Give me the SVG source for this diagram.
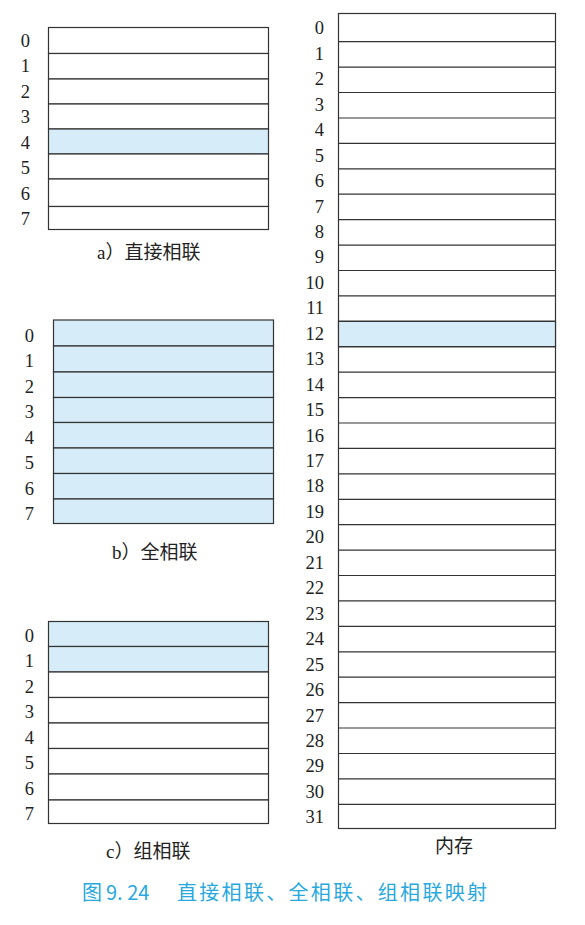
<svg xmlns="http://www.w3.org/2000/svg" width="585" height="925" viewBox="0 0 585 925">
<style>
.c{fill:#ffffff;stroke:#333333;stroke-width:1.2}
.h{fill:#d6edf9;stroke:#333333;stroke-width:1.2}
.n{font-size:18.5px;fill:#222222;text-anchor:end}
.cap{font-size:19px;fill:#222222}
.fig{font-size:20px;fill:#29a8e0}
</style>
<rect width="585" height="925" fill="#ffffff"/>
<g id="cache-a" font-family="'Liberation Serif','Noto Sans CJK SC',serif">
<rect class="c" x="48.5" y="27.5" width="220" height="26"/>
<rect class="c" x="48.5" y="53.5" width="220" height="25.5"/>
<rect class="c" x="48.5" y="79" width="220" height="25"/>
<rect class="c" x="48.5" y="104" width="220" height="25"/>
<rect class="h" x="48.5" y="129" width="220" height="25"/>
<rect class="c" x="48.5" y="154" width="220" height="25"/>
<rect class="c" x="48.5" y="179" width="220" height="27.5"/>
<rect class="c" x="48.5" y="206.5" width="220" height="23"/>
<text class="n" x="30" y="46.5">0</text>
<text class="n" x="30" y="72">1</text>
<text class="n" x="30" y="97.5">2</text>
<text class="n" x="30" y="123">3</text>
<text class="n" x="30" y="148.5">4</text>
<text class="n" x="30" y="174">5</text>
<text class="n" x="30" y="199.5">6</text>
<text class="n" x="30" y="225">7</text>
<text class="cap" x="97" y="259">a）直接相联</text>
</g>
<g id="cache-b" font-family="'Liberation Serif','Noto Sans CJK SC',serif">
<rect class="h" x="53.5" y="320" width="220" height="26"/>
<rect class="h" x="53.5" y="346" width="220" height="26"/>
<rect class="h" x="53.5" y="372" width="220" height="25.5"/>
<rect class="h" x="53.5" y="397.5" width="220" height="25"/>
<rect class="h" x="53.5" y="422.5" width="220" height="25.5"/>
<rect class="h" x="53.5" y="448" width="220" height="25.5"/>
<rect class="h" x="53.5" y="473.5" width="220" height="25.5"/>
<rect class="h" x="53.5" y="499" width="220" height="24.5"/>
<text class="n" x="34" y="341.5">0</text>
<text class="n" x="34" y="367">1</text>
<text class="n" x="34" y="392.5">2</text>
<text class="n" x="34" y="418">3</text>
<text class="n" x="34" y="443.5">4</text>
<text class="n" x="34" y="469">5</text>
<text class="n" x="34" y="494.5">6</text>
<text class="n" x="34" y="520">7</text>
<text class="cap" x="112" y="559">b）全相联</text>
</g>
<g id="cache-c" font-family="'Liberation Serif','Noto Sans CJK SC',serif">
<rect class="h" x="48.5" y="621.5" width="220" height="25"/>
<rect class="h" x="48.5" y="646.5" width="220" height="25.5"/>
<rect class="c" x="48.5" y="672" width="220" height="25.5"/>
<rect class="c" x="48.5" y="697.5" width="220" height="25.5"/>
<rect class="c" x="48.5" y="723" width="220" height="25.5"/>
<rect class="c" x="48.5" y="748.5" width="220" height="25.5"/>
<rect class="c" x="48.5" y="774" width="220" height="26"/>
<rect class="c" x="48.5" y="800" width="220" height="23.5"/>
<text class="n" x="34" y="641.5">0</text>
<text class="n" x="34" y="667">1</text>
<text class="n" x="34" y="692.5">2</text>
<text class="n" x="34" y="718">3</text>
<text class="n" x="34" y="743.5">4</text>
<text class="n" x="34" y="769">5</text>
<text class="n" x="34" y="794.5">6</text>
<text class="n" x="34" y="820">7</text>
<text class="cap" x="106" y="858">c）组相联</text>
</g>
<g id="memory" font-family="'Liberation Serif','Noto Sans CJK SC',serif">
<rect class="c" x="338.5" y="13.5" width="217" height="815"/>
<rect class="h" x="338.5" y="321.3" width="217" height="25.4"/>
<g stroke="#333333" stroke-width="1.2">
<line x1="338.5" x2="555.5" y1="41.7" y2="41.7"/>
<line x1="338.5" x2="555.5" y1="67.1" y2="67.1"/>
<line x1="338.5" x2="555.5" y1="92.5" y2="92.5"/>
<line x1="338.5" x2="555.5" y1="118" y2="118"/>
<line x1="338.5" x2="555.5" y1="143.4" y2="143.4"/>
<line x1="338.5" x2="555.5" y1="168.8" y2="168.8"/>
<line x1="338.5" x2="555.5" y1="194.2" y2="194.2"/>
<line x1="338.5" x2="555.5" y1="219.6" y2="219.6"/>
<line x1="338.5" x2="555.5" y1="245.1" y2="245.1"/>
<line x1="338.5" x2="555.5" y1="270.5" y2="270.5"/>
<line x1="338.5" x2="555.5" y1="295.9" y2="295.9"/>
<line x1="338.5" x2="555.5" y1="321.3" y2="321.3"/>
<line x1="338.5" x2="555.5" y1="346.7" y2="346.7"/>
<line x1="338.5" x2="555.5" y1="372.2" y2="372.2"/>
<line x1="338.5" x2="555.5" y1="397.6" y2="397.6"/>
<line x1="338.5" x2="555.5" y1="423" y2="423"/>
<line x1="338.5" x2="555.5" y1="448.4" y2="448.4"/>
<line x1="338.5" x2="555.5" y1="473.8" y2="473.8"/>
<line x1="338.5" x2="555.5" y1="499.3" y2="499.3"/>
<line x1="338.5" x2="555.5" y1="524.7" y2="524.7"/>
<line x1="338.5" x2="555.5" y1="550.1" y2="550.1"/>
<line x1="338.5" x2="555.5" y1="575.5" y2="575.5"/>
<line x1="338.5" x2="555.5" y1="600.9" y2="600.9"/>
<line x1="338.5" x2="555.5" y1="626.4" y2="626.4"/>
<line x1="338.5" x2="555.5" y1="651.8" y2="651.8"/>
<line x1="338.5" x2="555.5" y1="677.2" y2="677.2"/>
<line x1="338.5" x2="555.5" y1="702.6" y2="702.6"/>
<line x1="338.5" x2="555.5" y1="728" y2="728"/>
<line x1="338.5" x2="555.5" y1="753.5" y2="753.5"/>
<line x1="338.5" x2="555.5" y1="778.9" y2="778.9"/>
<line x1="338.5" x2="555.5" y1="804.3" y2="804.3"/>
</g>
<text class="n" x="324" y="34.3">0</text>
<text class="n" x="324" y="59.8">1</text>
<text class="n" x="324" y="85.2">2</text>
<text class="n" x="324" y="110.7">3</text>
<text class="n" x="324" y="136.1">4</text>
<text class="n" x="324" y="161.6">5</text>
<text class="n" x="324" y="187">6</text>
<text class="n" x="324" y="212.5">7</text>
<text class="n" x="324" y="237.9">8</text>
<text class="n" x="324" y="263.4">9</text>
<text class="n" x="324" y="288.8">10</text>
<text class="n" x="324" y="314.3">11</text>
<text class="n" x="324" y="339.7">12</text>
<text class="n" x="324" y="365.2">13</text>
<text class="n" x="324" y="390.6">14</text>
<text class="n" x="324" y="416.1">15</text>
<text class="n" x="324" y="441.5">16</text>
<text class="n" x="324" y="467">17</text>
<text class="n" x="324" y="492.4">18</text>
<text class="n" x="324" y="517.9">19</text>
<text class="n" x="324" y="543.3">20</text>
<text class="n" x="324" y="568.8">21</text>
<text class="n" x="324" y="594.2">22</text>
<text class="n" x="324" y="619.7">23</text>
<text class="n" x="324" y="645.1">24</text>
<text class="n" x="324" y="670.6">25</text>
<text class="n" x="324" y="696">26</text>
<text class="n" x="324" y="721.5">27</text>
<text class="n" x="324" y="746.9">28</text>
<text class="n" x="324" y="772.4">29</text>
<text class="n" x="324" y="797.8">30</text>
<text class="n" x="324" y="823.3">31</text>
<text class="cap" x="454" y="853" text-anchor="middle">内存</text>
</g>
<g id="figure-caption" font-family="'Noto Sans CJK SC','Noto Sans',sans-serif">
<text class="fig" x="82" y="900">图</text>
<text class="fig" x="106" y="900">9. 24</text>
<text class="fig" x="177" y="900" textLength="310" lengthAdjust="spacing">直接相联、全相联、组相联映射</text>
</g>
</svg>
